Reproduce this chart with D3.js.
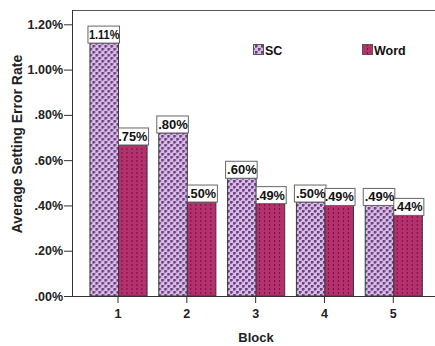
<!DOCTYPE html>
<html><head><meta charset="utf-8">
<script src="https://cdn.jsdelivr.net/npm/d3@7"></script>
<style>body{margin:0;background:#fff}svg{display:block;font-family:"Liberation Sans",Arial,sans-serif}</style>
</head><body><svg id="c" width="435" height="346"></svg>
<script>
const blocks = ["1","2","3","4","5"];
const seriesNames = ["SC","Word"];
const scBars = [1.117, 0.72, 0.52, 0.415, 0.40];
const wordBars = [0.667, 0.415, 0.408, 0.40, 0.356];
const scLabels = ["1.11%", ".80%", ".60%", ".50%", ".49%"];
const wordLabels = [".75%", ".50%", ".49%", ".49%", ".44%"];
const yTicks = [0, 0.2, 0.4, 0.6, 0.8, 1.0, 1.2];
const yTickLabels = [".00%", ".20%", ".40%", ".60%", ".80%", "1.00%", "1.20%"];

(function(){
const svg = d3.select("#c");
const defs = svg.append("defs");
const p1 = defs.append("pattern").attr("id","pSC").attr("patternUnits","userSpaceOnUse")
  .attr("width",6).attr("height",6);
p1.append("rect").attr("width",6).attr("height",6).attr("fill","#e0b6f4");
[[1,1],[4,4]].forEach(([cx,cy])=>{
  p1.append("rect").attr("x",cx-1).attr("y",cy-0.5).attr("width",3).attr("height",1).attr("fill","#33263a");
  p1.append("rect").attr("x",cx-0.5).attr("y",cy-1).attr("width",1).attr("height",3).attr("fill","#33263a");
});
const p2 = defs.append("pattern").attr("id","pWord").attr("patternUnits","userSpaceOnUse")
  .attr("width",5).attr("height",4);
p2.append("rect").attr("width",5).attr("height",4).attr("fill","#b5306c");
p2.append("rect").attr("x",2).attr("y",0).attr("width",1).attr("height",2).attr("fill","#6a1242");

const mLeft = 72, mTop = 10, mBottom = 296, mRight = 435;
const y = d3.scaleLinear().domain([0,1.2]).range([mBottom, 24.3]);
const x0 = d3.scaleBand().domain(blocks).range([83.6, 427.7]).paddingInner(0.17).paddingOuter(0.085);
const x1 = d3.scaleBand().domain(seriesNames).range([0, x0.bandwidth()]);

const data = blocks.map((b,i)=>({block:b, vals:[
  {s:"SC", v:scBars[i], lab:scLabels[i]},
  {s:"Word", v:wordBars[i], lab:wordLabels[i]}]}));

svg.append("line").attr("x1",mLeft).attr("x2",mRight).attr("y1",mTop+0.5).attr("y2",mTop+0.5).attr("stroke","#555");

const g = svg.selectAll("g.grp").data(data).enter().append("g").attr("class","grp")
  .attr("transform",d=>`translate(${x0(d.block)},0)`);
g.selectAll("rect.bar").data(d=>d.vals).enter().append("rect").attr("class","bar")
  .attr("x",d=>x1(d.s)+0.5).attr("y",d=>y(d.v))
  .attr("width",x1.bandwidth()).attr("height",d=>mBottom-y(d.v))
  .attr("fill",d=>d.s==="SC"?"url(#pSC)":"url(#pWord)")
  .attr("stroke","#3a3a3a").attr("stroke-width",1);
const bw = d=>x1.bandwidth()+(d.s==="SC"?3:1.5);
g.selectAll("rect.lb").data(d=>d.vals).enter().append("rect").attr("class","lb")
  .attr("x",d=>x1(d.s)+(d.s==="SC"?-1.5:0.5)).attr("y",d=>y(d.v)-17)
  .attr("width",bw).attr("height",17)
  .attr("fill","#fff").attr("stroke","#666").attr("stroke-width",1);
g.selectAll("text.lt").data(d=>d.vals).enter().append("text").attr("class","lt")
  .attr("x",d=>x1(d.s)+x1.bandwidth()/2+0.5).attr("y",d=>y(d.v)-4)
  .attr("text-anchor","middle").attr("font-size",13).attr("font-weight","bold").attr("fill","#111")
  .text(d=>d.lab)
  .each(function(d){
    const w = this.getComputedTextLength(), max = bw(d)-1;
    if (w > max) d3.select(this).attr("textLength",max).attr("lengthAdjust","spacingAndGlyphs");
  });

const ya = svg.append("g").attr("transform",`translate(${mLeft},0)`)
  .call(d3.axisLeft(y).tickValues(yTicks).tickSize(8).tickSizeOuter(0).tickFormat((d,i)=>yTickLabels[i]));
ya.select(".domain").attr("d",`M0.5,${mTop}V${mBottom}`).attr("stroke","#333");
ya.selectAll(".tick line").attr("stroke","#333");
ya.selectAll(".tick text").attr("font-size",12.5).attr("font-weight","bold").attr("fill","#222")
  .attr("font-family","Liberation Sans, Arial, sans-serif").attr("x",-9);

const xa = svg.append("g").attr("transform",`translate(0,${mBottom})`)
  .call(d3.axisBottom(x0).tickSize(7).tickSizeOuter(0));
xa.select(".domain").attr("d",`M${mLeft},0.5H${mRight}`).attr("stroke","#333");
xa.selectAll(".tick line").attr("stroke","#333");
xa.selectAll(".tick text").attr("font-size",12.5).attr("font-weight","bold").attr("fill","#222")
  .attr("font-family","Liberation Sans, Arial, sans-serif").attr("dy","0.95em");

svg.append("text").attr("x",256).attr("y",342).attr("text-anchor","middle")
  .attr("font-size",13).attr("font-weight","bold").attr("fill","#222").text("Block");
svg.append("text").attr("transform","translate(22,144) rotate(-90)").attr("text-anchor","middle")
  .attr("font-size",14).attr("font-weight","bold").attr("fill","#222").text("Average Setting Error Rate");

const legendX = [253, 362];
seriesNames.forEach((s,i)=>{
  svg.append("rect").attr("x",legendX[i]+0.5).attr("y",44.5).attr("width",10).attr("height",10)
    .attr("fill",s==="SC"?"url(#pSC)":"url(#pWord)").attr("stroke","#555");
  svg.append("text").attr("x",legendX[i]+12).attr("y",54.5).attr("font-size",12.5).attr("font-weight","bold")
    .attr("fill","#111").text(s);
});
})();
</script></body></html>
